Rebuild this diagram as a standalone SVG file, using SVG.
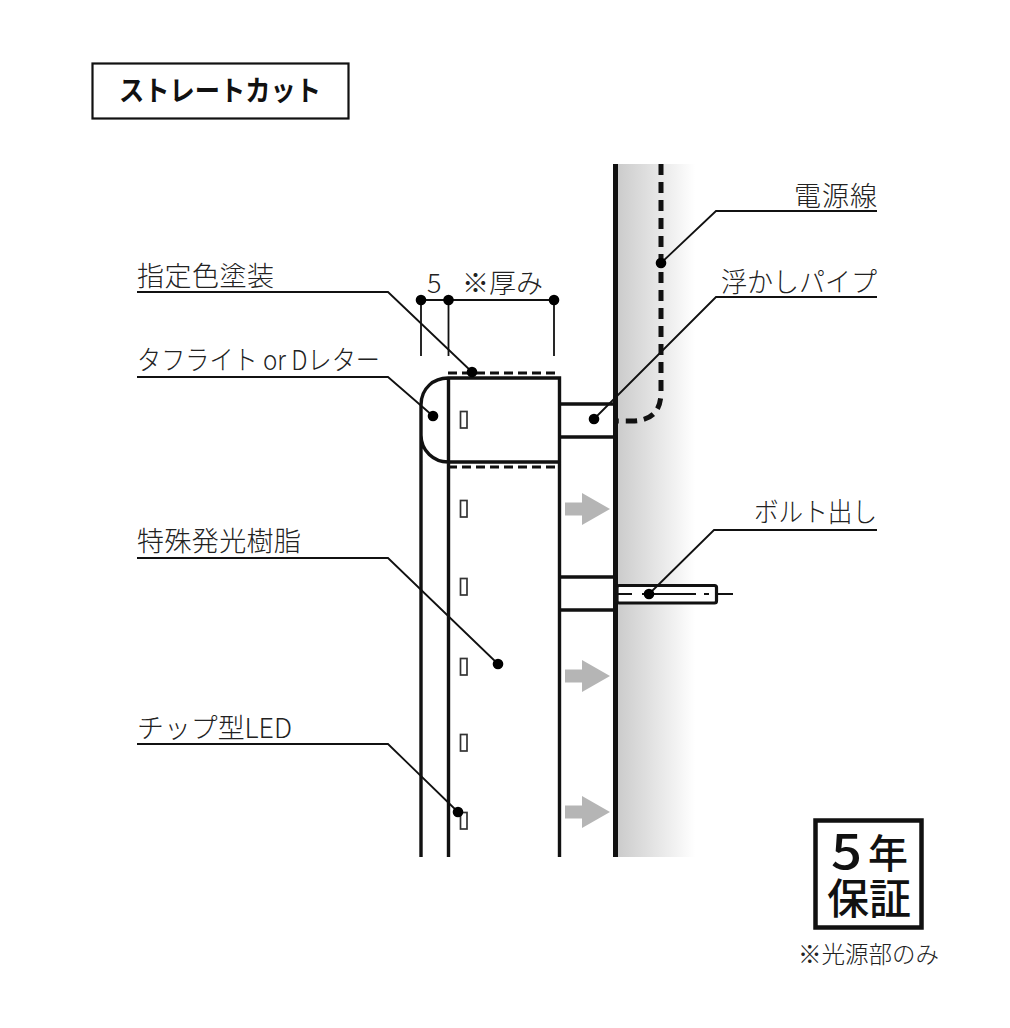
<svg xmlns="http://www.w3.org/2000/svg" width="1010" height="1028" viewBox="0 0 1010 1028">
<style>
text{font-family:"Noto Sans CJK JP","Noto Sans",sans-serif;fill:#222;font-weight:300}
.l{font-size:27px}
.s{fill:none;stroke:#111;stroke-width:3.400}
.t{fill:none;stroke:#111;stroke-width:1.800}
.d{fill:#000}
.led{fill:#fff;stroke:#333;stroke-width:1.700}
.a{fill:#b5b5b5}
</style>
<defs>
<linearGradient id="g" x1="0" x2="1" y1="0" y2="0"><stop offset="0" stop-color="#cbcbcb"/><stop offset="1" stop-color="#fff"/></linearGradient>
<polygon id="arr" class="a" points="565,-6.500 582,-6.500 582,-16 610,0 582,16 582,6.500 565,6.500"/>
</defs>
<rect width="1010" height="1028" fill="#fff"/>
<g id="title"><rect x="92.500" y="63.500" width="256" height="55" fill="#fff" stroke="#111" stroke-width="2.200"/>
<text x="119" y="101" style="font-size:28px;font-weight:700;fill:#111" textLength="202" lengthAdjust="spacingAndGlyphs">ストレートカット</text></g>
<g id="wall"><rect x="617" y="164" width="78" height="693" fill="url(#g)"/><line x1="615.500" y1="164" x2="615.500" y2="857" stroke="#111" stroke-width="5"/></g>
<g id="bolt"><rect x="617" y="585.500" width="99.500" height="17.500" rx="2" fill="#fff" stroke="#111" stroke-width="3.200"/>
<path d="M617 594H632M642 594H696M704 594H709M717 594H733" class="t"/></g>
<g id="pipes"><path class="s" d="M560 404H615M560 437H615M560 577H615M560 610H615"/></g>
<g id="letter">
<path class="s" d="M421 857V405C421 388 434 378 448 378H559.500V857M448.500 378V857M421 405V435C421 451 434 462 448 462H559.500"/>
<path d="M448 373H560M448 467H560" fill="none" stroke="#111" stroke-width="3" stroke-dasharray="9 5"/>
</g>
<g id="leds">
<rect class="led" x="460.500" y="411.500" width="6.500" height="16.500"/>
<rect class="led" x="460.500" y="500.500" width="6.500" height="16.500"/>
<rect class="led" x="460.500" y="578.500" width="6.500" height="16.500"/>
<rect class="led" x="460.500" y="658.500" width="6.500" height="16.500"/>
<rect class="led" x="460.500" y="734.500" width="6.500" height="16.500"/>
<rect class="led" x="460.500" y="812.500" width="6.500" height="16.500"/>
</g>
<g id="arrows"><use href="#arr" y="509"/><use href="#arr" y="676"/><use href="#arr" y="812"/></g>
<g id="power-line"><path d="M661 164V392Q661 421 632 421H617" fill="none" stroke="#111" stroke-width="5" stroke-dasharray="11 7"/></g>
<g id="connectors">
<path class="t" d="M877 211H716L661 263M877 297H716L594 419M877 530H714L649 594M137 292H388L472 372M137 377H388L433 416M137 558H388L498 664M137 744H388L458 812"/>
<path class="t" d="M421 300H554M421 300V356M448.500 300V356M554 300V356"/>
<g class="d"><circle cx="661" cy="263" r="5.300"/><circle cx="594" cy="419" r="5.300"/><circle cx="649" cy="594" r="5.300"/><circle cx="472" cy="372" r="5.300"/><circle cx="433" cy="416" r="5.300"/><circle cx="498" cy="664" r="5.300"/><circle cx="458" cy="812" r="5.300"/><circle cx="421" cy="300" r="5.300"/><circle cx="448.500" cy="300" r="5.300"/><circle cx="554" cy="300" r="5.300"/></g>
</g>
<g id="labels">
<text class="l" x="794" y="206" textLength="83">電源線</text>
<text class="l" x="721" y="292" textLength="156" lengthAdjust="spacingAndGlyphs">浮かしパイプ</text>
<text class="l" x="754" y="522" textLength="123" lengthAdjust="spacingAndGlyphs">ボルト出し</text>
<text class="l" x="137" y="286" textLength="137">指定色塗装</text>
<text class="l" x="137" y="370" textLength="243" lengthAdjust="spacingAndGlyphs">タフライト or Dレター</text>
<text class="l" x="137" y="551" textLength="164">特殊発光樹脂</text>
<text class="l" x="137" y="738" textLength="155" lengthAdjust="spacingAndGlyphs">チップ型LED</text>
<text class="l" x="427" y="293">5</text>
<text class="l" x="462" y="293">※厚み</text>
</g>
<g id="badge"><rect x="815.500" y="820.500" width="106" height="107" fill="#fff" stroke="#111" stroke-width="4.500"/>
<text x="831" y="869" style="font-size:49px;font-weight:500;fill:#111" textLength="31" lengthAdjust="spacingAndGlyphs">5</text>
<text x="868" y="868" style="font-size:40px;font-weight:500;fill:#111">年</text>
<text x="827" y="914" style="font-size:42px;font-weight:500;fill:#111">保証</text>
</g>
<text x="798" y="963" style="font-size:23.500px">※光源部のみ</text>
</svg>
